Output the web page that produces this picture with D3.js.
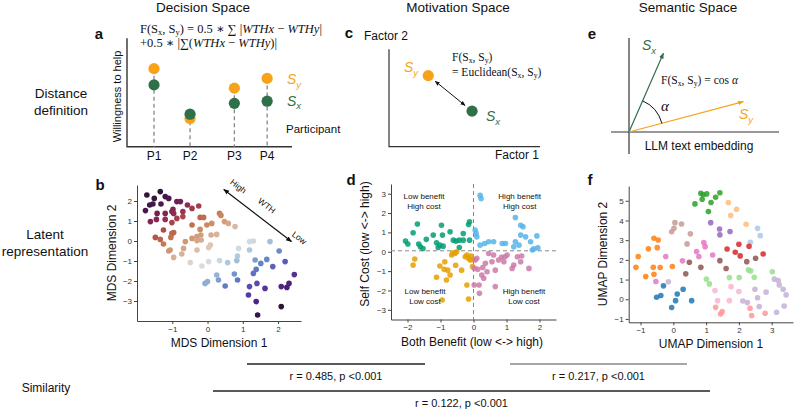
<!DOCTYPE html>
<html>
<head>
<meta charset="utf-8">
<script src="https://cdn.jsdelivr.net/npm/d3@7"></script>
<style>
  body { margin: 0; background: #fff; }
  text { font-family: "Liberation Sans", Arial, sans-serif; }
</style>
</head>
<body>
<div id="canvas"></div>
<script>
"use strict";

// ---- data ----
const columnTitles = ["Decision Space", "Motivation Space", "Semantic Space"];
const rowTitles = [["Distance", "definition"], ["Latent", "representation"], ["Similarity"]];

// panel a: willingness to help per participant
const participants = ["P1", "P2", "P3", "P4"];
const participantPos = [1, 2, 3.23, 4.14];
const wthSy = [7.2, 2.6, 5.4, 6.3];
const wthSx = [5.7, 3.0, 4.0, 4.2];

// panel c: factor scores
const motivSy = [2.6, 7.3];
const motivSx = [5.5, 3.65];

// panel e: embedding vectors
const embedSx = [1.72, 3.94];
const embedSy = [5.72, 1.52];

// panel b: MDS coordinates
const mdsPoints = [
  [-1.34,2.47],[-1.72,2.30],[-1.51,2.13],[-1.20,2.22],[-1.10,2.13],[-0.87,1.97],[-0.77,1.97],[-1.55,1.85],
  [-1.64,1.80],[-1.32,1.85],[-0.98,1.58],[-1.01,1.47],[-0.57,1.80],[-0.25,1.75],[-0.44,1.63],[-1.76,1.52],
  [-1.43,1.38],[-1.20,1.38],[-0.96,1.38],[-0.70,1.47],[-0.70,1.22],[-1.45,1.08],[-1.62,0.97],[-1.20,1.08],
  [-0.87,1.13],[-1.01,0.92],[-0.21,1.18],[-0.11,1.18],[0.34,1.38],[0.38,1.28],[0.12,0.88],[-0.02,0.80],
  [0.48,0.97],[0.59,0.88],[0.78,0.72],[-1.25,0.55],[-0.44,0.80],[-0.21,0.58],[-0.19,0.30],[0.10,0.30],
  [0.26,0.33],[0.08,-0.20],[-1.48,0.18],[-1.34,0.08],[-1.01,0.38],[-0.96,0.42],[-1.04,0.18],[-0.63,-0.03],
  [-0.44,0.13],[-0.30,0.22],[-0.18,0.05],[-1.25,-0.15],[-0.30,0.02],[0.03,-0.33],[-1.06,-0.45],[-1.10,-0.50],
  [-0.68,-0.37],[-0.73,-0.65],[-0.96,-0.82],[-0.30,-0.45],[-0.49,-1.08],[-0.16,-1.25],[0.03,-1.03],[0.34,-0.98],
  [0.57,-1.08],[0.83,-0.98],[0.88,-0.37],[1.19,-0.03],[1.30,0.00],[1.19,-0.45],[0.85,-0.75],[0.26,-1.70],
  [0.31,-1.95],[0.00,-2.03],[-0.07,-2.12],[0.50,-2.25],[0.76,-1.65],[0.85,-1.95],[1.35,-0.95],[1.38,-1.42],
  [1.51,-1.12],[1.40,-2.12],[1.30,-1.62],[1.68,-0.92],[1.77,-0.03],[1.63,-2.37],[1.19,-2.28],[1.16,-2.70],
  [1.38,-3.03],[1.42,-3.70],[2.03,-0.50],[2.20,-1.03],[1.85,-1.28],[2.46,-1.68],[2.31,-2.12],[2.25,-2.32],
  [2.09,-2.28],[2.09,-3.28]
];
const mdsTicksX = [-1, 0, 1, 2];
const mdsTicksY = [-3, -2, -1, 0, 1, 2];

// panel d: benefit / cost quadrants
const lowBenefitHighCost = [
  [-2.06,0.55],[-1.99,0.40],[-1.83,0.98],[-1.70,1.43],[-1.61,0.26],[-1.53,0.17],[-1.43,0.64],[-1.22,0.86],
  [-1.12,0.46],[-1.07,0.22],[-1.02,0.34],[-0.97,1.37],[-0.94,0.86],[-0.92,0.29],[-0.71,1.03],[-0.61,0.60],
  [-0.53,0.55],[-0.43,0.60],[-0.31,0.60],[-0.31,0.94],[-0.15,1.41],[-0.12,1.55],[-0.12,0.60],[-0.43,0.22],
  [-1.66,0.40]
];
const highBenefitHighCost = [
  [0.20,2.92],[0.23,2.75],[0.05,1.12],[0.08,0.95],[0.10,0.77],[0.20,0.34],[0.34,0.43],[0.46,0.52],
  [0.61,0.52],[0.87,0.43],[0.97,0.43],[1.22,0.26],[1.27,1.77],[1.43,1.37],[1.50,1.29],[1.43,0.86],
  [1.27,0.52],[1.38,0.34],[1.58,0.77],[1.73,0.52],[1.78,0.09],[1.92,0.82],[1.95,0.20],[1.83,0.15]
];
const lowBenefitLowCost = [
  [-1.78,-0.38],[-1.83,-0.69],[-0.87,-0.52],[-1.02,-0.74],[-0.89,-0.91],[-0.78,-0.95],[-1.12,-1.32],[-0.82,-1.46],
  [-0.66,-0.17],[-0.56,-0.09],[-0.51,0.00],[-0.63,-0.05],[-0.36,-0.95],[-0.25,-0.26],[-0.20,-0.17],[-0.15,-0.34],
  [-0.10,-0.43],[-0.07,-0.22],[-0.03,-0.40],[-0.03,-0.77],[-0.20,-1.72],[-0.15,-2.44],[-0.95,-2.49],[-0.54,-0.70],
  [-0.71,-1.20]
];
const highBenefitLowCost = [
  [0.05,-0.43],[0.10,-0.34],[0.03,-0.86],[0.13,-0.91],[0.28,-0.81],[0.17,-1.72],[0.18,-2.15],[0.36,-0.60],
  [0.56,-0.52],[0.61,-0.17],[0.46,-0.09],[0.76,-0.43],[0.85,-0.29],[0.95,-0.26],[1.02,-0.17],[0.41,-1.03],
  [0.66,-0.95],[0.66,-1.80],[1.17,-0.86],[1.22,-0.69],[1.43,-0.52],[1.46,-0.22],[1.68,-0.86],[0.31,-1.37],
  [0.25,-1.20],[0.92,-0.52],[1.33,-0.26],[0.02,-1.72]
];
const quadrantLabels = [
  ["Low benefit", "High cost", -1.5, 2.75],
  ["High benefit", "High cost", 1.4, 2.75],
  ["Low benefit", "Low cost", -1.47, -2.2],
  ["High benefit", "Low cost", 1.53, -2.2]
];
const quadTicksX = [-2, -1, 0, 1, 2];
const quadTicksY = [-3, -2, -1, 0, 1, 2, 3];

// panel f: UMAP clusters
const umapGreen = [[0.84,5.38],[0.91,5.30],[1.02,5.35],[1.42,5.41],[1.29,5.18],[0.88,5.08],[0.66,4.84],[1.15,4.91],[1.07,4.45]];
const umapLightOrange = [[1.68,4.91],[1.93,4.57],[1.75,4.25],[2.22,3.81]];
const umapLightBlue = [[2.57,3.60],[2.65,3.23],[2.35,2.89]];
const umapPurple = [[1.14,3.89],[1.41,3.57],[1.73,3.44],[1.42,3.27]];
const umapLightBrown = [[0.05,3.89],[0.25,3.82],[0.02,3.60],[-0.05,3.43],[0.52,3.32],[0.42,2.81]];
const umapOrange = [[-0.59,3.10],[-0.46,3.01],[-0.76,2.56],[-0.49,2.62],[-1.07,2.17],[-1.14,1.62],[-0.84,1.15],[-0.61,1.62],[-0.59,1.27],[-0.40,1.61],[-0.03,1.66]];
const umapPink = [[-0.23,2.17],[0.28,1.95],[0.71,2.42],[0.78,2.17],[0.93,2.88],[0.97,2.67],[1.20,2.25],[-0.53,0.90]];
const umapBrown = [[0.49,1.88],[0.38,1.29],[0.84,1.62],[1.42,1.96],[1.61,1.56],[2.24,1.91],[2.51,2.08]];
const umapRed = [[1.64,2.55],[2.00,2.79],[2.31,2.69],[1.89,2.39],[2.04,2.20],[2.74,2.30]];
const umapLightGreen = [[1.01,1.02],[1.10,0.78],[1.71,1.10],[2.01,1.10],[2.47,1.12],[2.29,1.49],[2.36,1.44],[3.02,1.40]];
const umapBlue = [[-0.30,0.68],[-0.51,0.10],[-0.38,0.19],[0.30,0.51],[0.12,0.27],[0.07,-0.07],[-0.05,-0.42],[0.56,-0.07]];
const umapLightPurple = [[-0.15,0.89],[3.08,1.02],[3.20,0.95],[3.23,0.73],[3.35,0.51],[3.44,0.22],[3.38,-0.34],[3.15,-0.66],[2.62,-0.37],[2.57,0.08],[2.49,0.51],[2.83,0.36],[2.12,-0.09],[2.26,-0.17]];
const umapLightPink = [[1.27,0.44],[1.76,0.64],[2.00,0.39],[1.35,-0.07],[1.71,-0.07]];
const umapLightRed = [[1.29,-0.41],[1.44,-0.75],[1.49,-0.63],[2.34,-0.46],[2.39,-0.83],[2.80,-0.71]];
const umapTicksX = [-1, 0, 1, 2, 3];
const umapTicksY = [-1, 0, 1, 2, 3, 4, 5];

// similarity between spaces
const similarityLabels = ["r = 0.485, p <0.001", "r = 0.217, p <0.001", "r = 0.122, p <0.001"];

// ---- colours ----
const green = "#2f7049";
const orange = "#f7a21b";
// twilight-like ramp along the WTH direction (x - y)
const wthStops = [-3.8, -3.2, -2.7, -2.2, -1.7, -1.1, -0.5, 0.1, 0.7, 1.2, 1.6, 2.1, 2.6, 3.1, 3.6, 4.1, 4.6, 5.3];
const wthColors = ["#2e1539", "#4b1a4f", "#7a2152", "#9a3050", "#b5524a", "#c6784f", "#d39d7c", "#dabba5",
  "#e2d8d3", "#d5dce2", "#b3cadb", "#8aacd0", "#6486c4", "#5d62ba", "#5b44ab", "#572f98", "#461f72", "#2e1238"];
const wthColor = d3.scaleLinear().domain(wthStops).range(wthColors).clamp(true);

const umapClusters = [
  [umapGreen, "#2ca02c"], [umapLightOrange, "#ffbb78"], [umapLightBlue, "#aec7e8"], [umapPurple, "#9467bd"],
  [umapLightBrown, "#c49c94"], [umapOrange, "#ff7f0e"], [umapPink, "#e377c2"], [umapBrown, "#8c564b"],
  [umapRed, "#d62728"], [umapLightGreen, "#98df8a"], [umapBlue, "#1f77b4"], [umapLightPurple, "#c5b0d5"],
  [umapLightPink, "#f7b6d2"], [umapLightRed, "#ff9896"]
];

// ---- svg ----
const width = 800, height = 410;
const svg = d3.select("#canvas").append("svg")
  .attr("width", width).attr("height", height);

const defs = svg.append("defs");
function marker(id, color, size) {
  defs.append("marker")
    .attr("id", id).attr("viewBox", "0 0 10 10")
    .attr("refX", 9).attr("refY", 5)
    .attr("markerWidth", size).attr("markerHeight", size)
    .attr("orient", "auto-start-reverse")
    .append("path").attr("d", "M0,1 L10,5 L0,9 Z").attr("fill", color);
}
marker("arrBlack", "#111", 5);
marker("arrGreen", green, 5);
marker("arrOrange", orange, 5);

const serif = "'Liberation Serif', 'DejaVu Serif', serif";
const sans = "'Liberation Sans', Arial, sans-serif";

// split "S_x" style strings into tspan segments
function parse(str, italic) {
  const out = [];
  str.split(/(_.)/).forEach(p => {
    if (!p) return;
    if (p[0] === "_" && p.length === 2) out.push({ t: p[1], sub: true, it: italic });
    else out.push({ t: p, it: italic });
  });
  return out;
}

function rich(x, y, segs, size, family, fill, drop) {
  const t = svg.append("text").attr("x", x).attr("y", y)
    .attr("font-size", size).attr("fill", fill || "#111")
    .style("font-family", family);
  let shift = 0;
  segs.forEach(s => {
    const sp = t.append("tspan").text(s.t);
    const want = s.sub ? size * (drop || 0.28) : 0;
    if (want !== shift) { sp.attr("dy", want - shift); shift = want; }
    if (s.sub) sp.attr("font-size", size * 0.68);
    if (s.it) sp.attr("font-style", "italic");
  });
  return t;
}

function label(x, y, txt, size, opts) {
  opts = opts || {};
  const t = svg.append("text").attr("x", x).attr("y", y)
    .attr("font-size", size).attr("fill", opts.fill || "#111")
    .attr("text-anchor", opts.anchor || "start")
    .text(txt);
  if (opts.weight) t.attr("font-weight", opts.weight);
  if (opts.family) t.style("font-family", opts.family);
  if (opts.rotate !== undefined) t.attr("transform", `rotate(${opts.rotate},${x},${y})`);
  return t;
}

function scatterAxes(x, y, xt, yt) {
  const fmt = d3.format("d");
  const gx = svg.append("g").attr("transform", `translate(0,${y.range()[0]})`)
    .call(d3.axisBottom(x).tickValues(xt).tickFormat(fmt).tickSize(3).tickSizeOuter(0).tickPadding(2));
  const gy = svg.append("g").attr("transform", `translate(${x.range()[0]},0)`)
    .call(d3.axisLeft(y).tickValues(yt).tickFormat(fmt).tickSize(3).tickSizeOuter(0).tickPadding(2));
  [gx, gy].forEach(g => {
    g.select(".domain").attr("stroke", "#444").attr("stroke-width", 1);
    g.selectAll(".tick line").attr("stroke", "#444");
    g.selectAll("text").attr("font-size", 8).attr("fill", "#333").style("font-family", sans);
  });
}

// ---- headers ----
label(203, 12, columnTitles[0], 13.5, { anchor: "middle" });
label(458, 12, columnTitles[1], 13.5, { anchor: "middle" });
label(688, 12, columnTitles[2], 13.5, { anchor: "middle" });

label(61, 98, rowTitles[0][0], 13.5, { anchor: "middle" });
label(61, 115, rowTitles[0][1], 13.5, { anchor: "middle" });
label(45, 239, rowTitles[1][0], 13.5, { anchor: "middle" });
label(45, 256, rowTitles[1][1], 13.5, { anchor: "middle" });
label(46, 392, rowTitles[2][0], 12, { anchor: "middle", family: "'Liberation Sans Narrow', 'Liberation Sans', sans-serif" });

// ---- panel a ----
const xA = d3.scaleLinear().domain([0.25, 4.83]).range([127, 292]);
const yA = d3.scaleLinear().domain([0, 10]).range([146.7, 38.3]);
svg.append("path")
  .attr("d", `M${xA.range()[0]},${yA(10)} V${yA(0)} H${xA.range()[1]}`)
  .attr("fill", "none").attr("stroke", "#333").attr("stroke-width", 1.4);

participants.forEach((p, i) => {
  const top = Math.max(wthSy[i], wthSx[i]);
  svg.append("line")
    .attr("x1", xA(participantPos[i])).attr("x2", xA(participantPos[i]))
    .attr("y1", yA(top)).attr("y2", yA(0))
    .attr("stroke", "#888").attr("stroke-width", 1.3).attr("stroke-dasharray", "4,3");
  label(xA(participantPos[i]), 160, p, 12, { anchor: "middle" });
});
svg.selectAll("circle.sy").data(wthSy).enter().append("circle")
  .attr("class", "sy")
  .attr("cx", (d, i) => xA(participantPos[i])).attr("cy", d => yA(d))
  .attr("r", 5.6).attr("fill", orange);
svg.selectAll("circle.sx").data(wthSx).enter().append("circle")
  .attr("class", "sx")
  .attr("cx", (d, i) => xA(participantPos[i])).attr("cy", d => yA(d))
  .attr("r", 5.6).attr("fill", green);

label(99, 39, "a", 15, { weight: "bold", anchor: "middle" });
label(121, 96.5, "Willingness to help", 11, { anchor: "middle", rotate: -90 });
label(286, 133, "Participant", 11.5);
rich(287, 84, parse("S_y", true), 14, sans, orange);
rich(287, 105.5, parse("S_x", true), 14, sans, green);

rich(140, 33, parse("F(S_x, S_y) = 0.5 ∗ ∑ |").concat(
  [{ t: "WTHx", it: true }, { t: " − " }, { t: "WTHy", it: true }, { t: "|" }]), 12.5, serif, "#111", 0.16);
rich(140, 47, [{ t: "+0.5 ∗ |∑(" }, { t: "WTHx", it: true }, { t: " − " }, { t: "WTHy", it: true }, { t: ")|" }], 12.5, serif);

// ---- panel c ----
const xC = d3.scaleLinear().domain([0, 10]).range([389, 540]);
const yC = d3.scaleLinear().domain([0, 10]).range([146.7, 49.3]);
svg.append("path")
  .attr("d", `M${xC(0)},${yC(10)} V${yC(0)} H${xC(10)}`)
  .attr("fill", "none").attr("stroke", "#333").attr("stroke-width", 1.2);
label(349, 38, "c", 15, { weight: "bold", anchor: "middle" });
label(364, 40, "Factor 2", 12);
label(539, 159, "Factor 1", 12, { anchor: "end" });
{
  const x1 = xC(motivSy[0]), y1 = yC(motivSy[1]), x2 = xC(motivSx[0]), y2 = yC(motivSx[1]);
  const len = Math.hypot(x2 - x1, y2 - y1), ux = (x2 - x1) / len, uy = (y2 - y1) / len;
  svg.append("line")
    .attr("x1", x1 + ux * 9).attr("y1", y1 + uy * 9)
    .attr("x2", x2 - ux * 9).attr("y2", y2 - uy * 9)
    .attr("stroke", "#111").attr("stroke-width", 1)
    .attr("marker-start", "url(#arrBlack)").attr("marker-end", "url(#arrBlack)");
  svg.append("circle").attr("cx", x1).attr("cy", y1).attr("r", 5.6).attr("fill", orange);
  svg.append("circle").attr("cx", x2).attr("cy", y2).attr("r", 5.6).attr("fill", green);
}
rich(404, 72, parse("S_y", true), 14, sans, orange);
rich(486, 121, parse("S_x", true), 14, sans, green);
rich(452, 61, parse("F(S_x, S_y)"), 11.5, serif, "#111", 0.2);
rich(452, 76, parse("= Euclidean(S_x, S_y)"), 11.5, serif, "#111", 0.2);

// ---- panel e ----
const xE = d3.scaleLinear().domain([-0.9, 7.5]).range([611, 779]);
const yE = d3.scaleLinear().domain([-1.1, 4.7]).range([154, 38]);
svg.append("line").attr("x1", xE(-0.9)).attr("x2", xE(7.5)).attr("y1", yE(0)).attr("y2", yE(0))
  .attr("stroke", "#333").attr("stroke-width", 1.2);
svg.append("line").attr("x1", xE(0)).attr("x2", xE(0)).attr("y1", yE(-1.1)).attr("y2", yE(4.7))
  .attr("stroke", "#333").attr("stroke-width", 1.2);
svg.append("line").attr("x1", xE(0)).attr("y1", yE(0)).attr("x2", xE(embedSx[0])).attr("y2", yE(embedSx[1]))
  .attr("stroke", green).attr("stroke-width", 1.2).attr("marker-end", "url(#arrGreen)");
svg.append("line").attr("x1", xE(0)).attr("y1", yE(0)).attr("x2", xE(embedSy[0])).attr("y2", yE(embedSy[1]))
  .attr("stroke", orange).attr("stroke-width", 1.2).attr("marker-end", "url(#arrOrange)");
{
  const r = 34, ox = xE(0), oy = yE(0);
  const aY = Math.atan2(embedSy[1], embedSy[0]), aX = Math.atan2(embedSx[1], embedSx[0]);
  svg.append("path")
    .attr("d", `M${ox + r * Math.cos(aY)},${oy - r * Math.sin(aY)} A${r},${r} 0 0 0 ${ox + r * Math.cos(aX)},${oy - r * Math.sin(aX)}`)
    .attr("fill", "none").attr("stroke", "#111").attr("stroke-width", 1);
}
label(592, 39, "e", 15, { weight: "bold", anchor: "middle" });
rich(642, 50, parse("S_x", true), 14, sans, green);
rich(739, 119, parse("S_y", true), 14, sans, orange);
rich(661, 84, parse("F(S_x, S_y) = cos ").concat([{ t: "α", it: true }]), 11.5, serif, "#111", 0.2);
label(661, 111, "α", 15, { family: serif }).attr("font-style", "italic");
label(699, 150, "LLM text embedding", 12, { anchor: "middle" });

// ---- panel b ----
const xB = d3.scaleLinear().domain([-2, 2.65]).range([137, 301]);
const yB = d3.scaleLinear().domain([-4, 2.8]).range([321, 185]);
scatterAxes(xB, yB, mdsTicksX, mdsTicksY);
svg.append("g").selectAll("circle").data(mdsPoints).enter().append("circle")
  .attr("cx", d => xB(d[0])).attr("cy", d => yB(d[1])).attr("r", 2.8)
  .attr("fill", d => wthColor(d[0] - d[1]));
svg.append("line")
  .attr("x1", xB(0.46)).attr("y1", yB(2.58)).attr("x2", xB(2.38)).attr("y2", yB(-0.03))
  .attr("stroke", "#111").attr("stroke-width", 1.2)
  .attr("marker-start", "url(#arrBlack)").attr("marker-end", "url(#arrBlack)");
[["High", 0.82, 2.77], ["WTH", 1.63, 1.8], ["Low", 2.55, 0.19]].forEach(a => {
  label(xB(a[1]), yB(a[2]) + 3, a[0], 8.5, { anchor: "middle", rotate: 37.5 });
});
label(100, 190, "b", 15, { weight: "bold", anchor: "middle" });
label(219, 347, "MDS Dimension 1", 12, { anchor: "middle" });
label(116, 253, "MDS Dimension 2", 12, { anchor: "middle", rotate: -90 });

// ---- panel d ----
const xD = d3.scaleLinear().domain([-2.5, 2.5]).range([391, 556]);
const yD = d3.scaleLinear().domain([-3.5, 3.5]).range([319.5, 184]);
scatterAxes(xD, yD, quadTicksX, quadTicksY);
svg.append("line").attr("x1", xD(0)).attr("x2", xD(0)).attr("y1", yD(3.5)).attr("y2", yD(-3.5))
  .attr("stroke", "#888").attr("stroke-width", 1).attr("stroke-dasharray", "4,3");
svg.append("line").attr("x1", xD(-2.5)).attr("x2", xD(2.5)).attr("y1", yD(0.05)).attr("y2", yD(0.05))
  .attr("stroke", "#888").attr("stroke-width", 1).attr("stroke-dasharray", "4,3");
[[lowBenefitHighCost, "#009E73"], [highBenefitHighCost, "#56B4E9"],
 [lowBenefitLowCost, "#E69F00"], [highBenefitLowCost, "#CC79A7"]].forEach(([pts, col]) => {
  svg.append("g").selectAll("circle").data(pts).enter().append("circle")
    .attr("cx", d => xD(d[0])).attr("cy", d => yD(d[1])).attr("r", 2.8)
    .attr("fill", col).attr("fill-opacity", 0.85);
});
quadrantLabels.forEach(q => {
  label(xD(q[2]), yD(q[3]), q[0], 8, { anchor: "middle" });
  label(xD(q[2]), yD(q[3]) + 10, q[1], 8, { anchor: "middle" });
});
label(351, 185, "d", 15, { weight: "bold", anchor: "middle" });
label(472, 346, "Both Benefit (low <-> high)", 12, { anchor: "middle" });
label(369, 244, "Self Cost (low <-> high)", 12, { anchor: "middle", rotate: -90 });

// ---- panel f ----
const xF = d3.scaleLinear().domain([-1.36, 3.65]).range([628.7, 793]);
const yF = d3.scaleLinear().domain([-1.17, 5.75]).range([322.3, 186]);
scatterAxes(xF, yF, umapTicksX, umapTicksY);
umapClusters.forEach(([pts, col]) => {
  svg.append("g").selectAll("circle").data(pts).enter().append("circle")
    .attr("cx", d => xF(d[0])).attr("cy", d => yF(d[1])).attr("r", 2.8)
    .attr("fill", col).attr("fill-opacity", 0.85);
});
label(590, 185, "f", 15, { weight: "bold", anchor: "middle" });
label(711, 348, "UMAP Dimension 1", 12, { anchor: "middle" });
label(607, 254, "UMAP Dimension 2", 12, { anchor: "middle", rotate: -90 });

// ---- similarity ----
const narrow = "'Liberation Sans Narrow', 'Liberation Sans', sans-serif";
[[247, 425, 364, "#222", similarityLabels[0]],
 [510, 687, 364, "#888", similarityLabels[1]],
 [213, 710, 391, "#222", similarityLabels[2]]].forEach(s => {
  svg.append("line").attr("x1", s[0]).attr("x2", s[1]).attr("y1", s[2]).attr("y2", s[2])
    .attr("stroke", s[3]).attr("stroke-width", 1.3);
  label((s[0] + s[1]) / 2, s[2] + 16, s[4], 11, { anchor: "middle", family: narrow });
});
</script>
</body>
</html>
